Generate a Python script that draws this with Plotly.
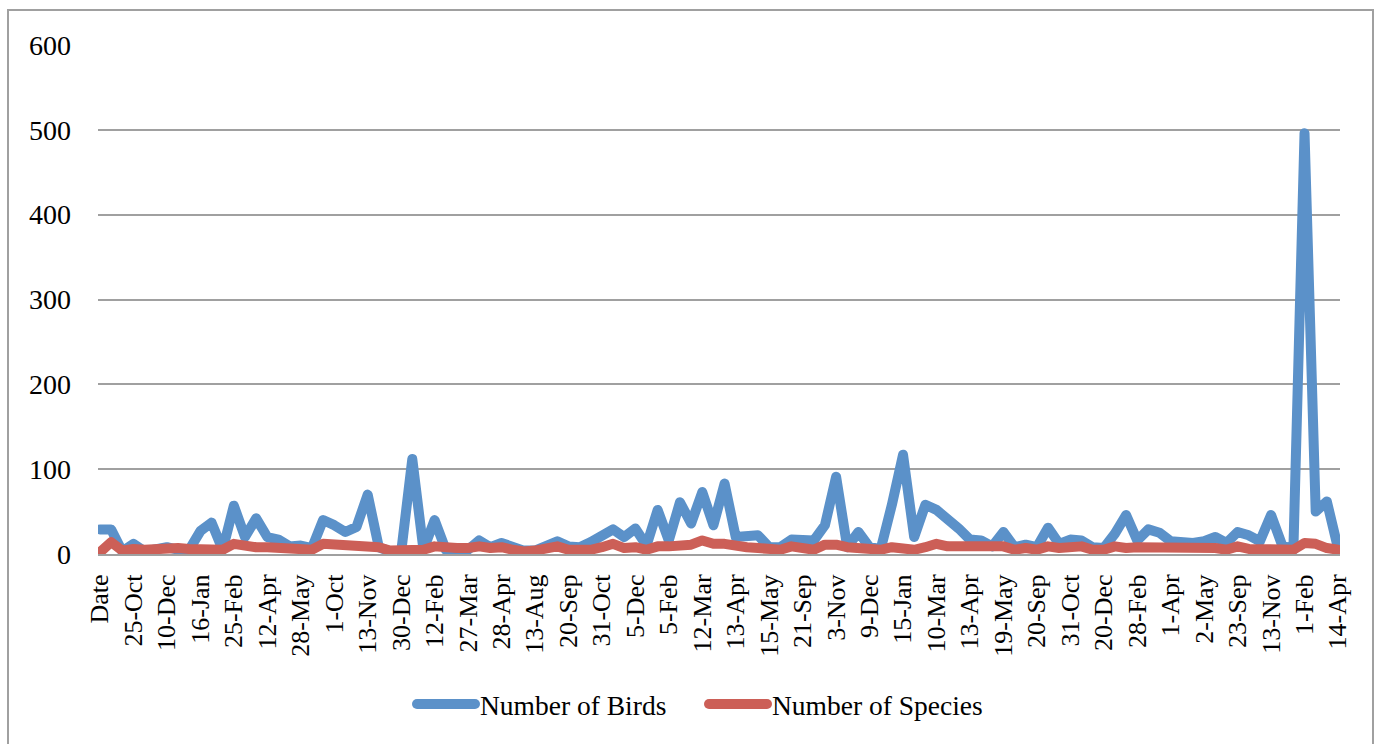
import plotly.graph_objects as go

birds = [29, 29, 3, 12, 3, 5, 8, 5, 5, 27,
         37, 5, 57, 20, 42, 20, 17, 9, 10, 7,
         40, 34, 26, 32, 70, 8, 3, 2, 112, 5,
         40, 5, 4, 5, 16, 8, 13, 9, 4, 4,
         8, 15, 9, 8, 14, 22, 29, 20, 30, 10,
         52, 16, 61, 36, 73, 34, 83, 20, 20, 22,
         8, 8, 17, 16, 16, 34, 91, 8, 26, 8,
         6, 58, 117, 20, 58, 52, 42, 30, 17, 16,
         9, 26, 8, 11, 8, 31, 12, 17, 16, 8,
         7, 24, 46, 16, 29, 25, 15, 13, 13, 15,
         20, 13, 26, 22, 15, 46, 10, 5, 496, 50,
         62, 7]

species = [2, 14, 4, 6, 5, 6, 7, 7, 6, 6,
           6, 5, 12, 9, 8, 8, 7, 5, 5, 5,
           12, 11, 11, 8, 9, 8, 4, 5, 6, 5,
           9, 7, 7, 7, 9, 7, 8, 5, 3, 4,
           7, 9, 5, 5, 5, 8, 12, 7, 8, 5,
           9, 9, 9, 11, 16, 12, 12, 9, 8, 7,
           5, 5, 9, 8, 5, 11, 11, 8, 7, 5,
           5, 8, 5, 5, 8, 12, 9, 9, 7, 9,
           7, 9, 5, 7, 5, 9, 7, 9, 9, 5,
           5, 9, 7, 8, 8, 9, 8, 7, 8, 7,
           7, 5, 9, 6, 6, 6, 5, 5, 13, 12,
           7, 5]

tick_labels = ["Date", "25-Oct", "10-Dec", "16-Jan", "25-Feb", "12-Apr", "28-May",
               "1-Oct", "13-Nov", "30-Dec", "12-Feb", "27-Mar", "28-Apr", "13-Aug",
               "20-Sep", "31-Oct", "5-Dec", "5-Feb", "12-Mar", "13-Apr", "15-May",
               "21-Sep", "3-Nov", "9-Dec", "15-Jan", "10-Mar", "13-Apr", "19-May",
               "20-Sep", "31-Oct", "20-Dec", "28-Feb", "1-Apr", "2-May", "23-Sep",
               "13-Nov", "1-Feb", "14-Apr"]

x = list(range(len(birds)))
tick_pos = list(range(0, len(birds), 3))

FONT = "Liberation Serif, Times New Roman, serif"

fig = go.Figure()
fig.add_trace(go.Scatter(x=x, y=birds, mode="lines", name="Number of Birds",
                         line=dict(color="#5b91c9", width=10)))
fig.add_trace(go.Scatter(x=x, y=species, mode="lines", name="Number of Species",
                         line=dict(color="#cc5f57", width=10)))

fig.update_layout(
    width=1378, height=744,
    margin=dict(l=98, r=38, t=45, b=190),
    paper_bgcolor="white", plot_bgcolor="white",
    font=dict(family=FONT, size=26, color="black"),
    showlegend=True,
    legend=dict(orientation="h", x=(412 - 98) / 1242, xanchor="left",
                y=-0.295, yanchor="middle",
                font=dict(family=FONT, size=27.5, color="black"),
                itemwidth=58, entrywidth=219, entrywidthmode="pixels",
                tracegroupgap=0),
    xaxis=dict(range=[-0.18, 111.18], tickmode="array", tickvals=tick_pos,
               ticktext=tick_labels, tickangle=-90, showgrid=False,
               showline=True, linecolor="#a0a0a0", linewidth=2,
               ticks="", ticklabelstandoff=8, zeroline=False),
    yaxis=dict(range=[0, 600], tickvals=[0, 100, 200, 300, 400, 500, 600],
               showgrid=True, gridcolor="#a0a0a0", gridwidth=2,
               zeroline=False, showline=False, ticks="",
               tickfont=dict(family=FONT, size=28),
               ticklabelstandoff=26),
    shapes=[dict(type="rect", xref="paper", yref="paper",
                 x0=(8 - 98) / 1242, x1=(1373 - 98) / 1242,
                 y0=(554 - 770) / 509, y1=(554 - 10) / 509,
                 line=dict(color="#a0a0a0", width=2), fillcolor="rgba(0,0,0,0)",
                 layer="below")],
)

post = """
document.body.style.margin = '0';
document.body.style.padding = '0';
document.querySelectorAll('path.js-line').forEach(function(p){
  p.style.strokeLinejoin = 'round';
  p.style.strokeLinecap = 'round';
});
"""

fig.write_html("out.html", post_script=post, config={"displayModeBar": False})
